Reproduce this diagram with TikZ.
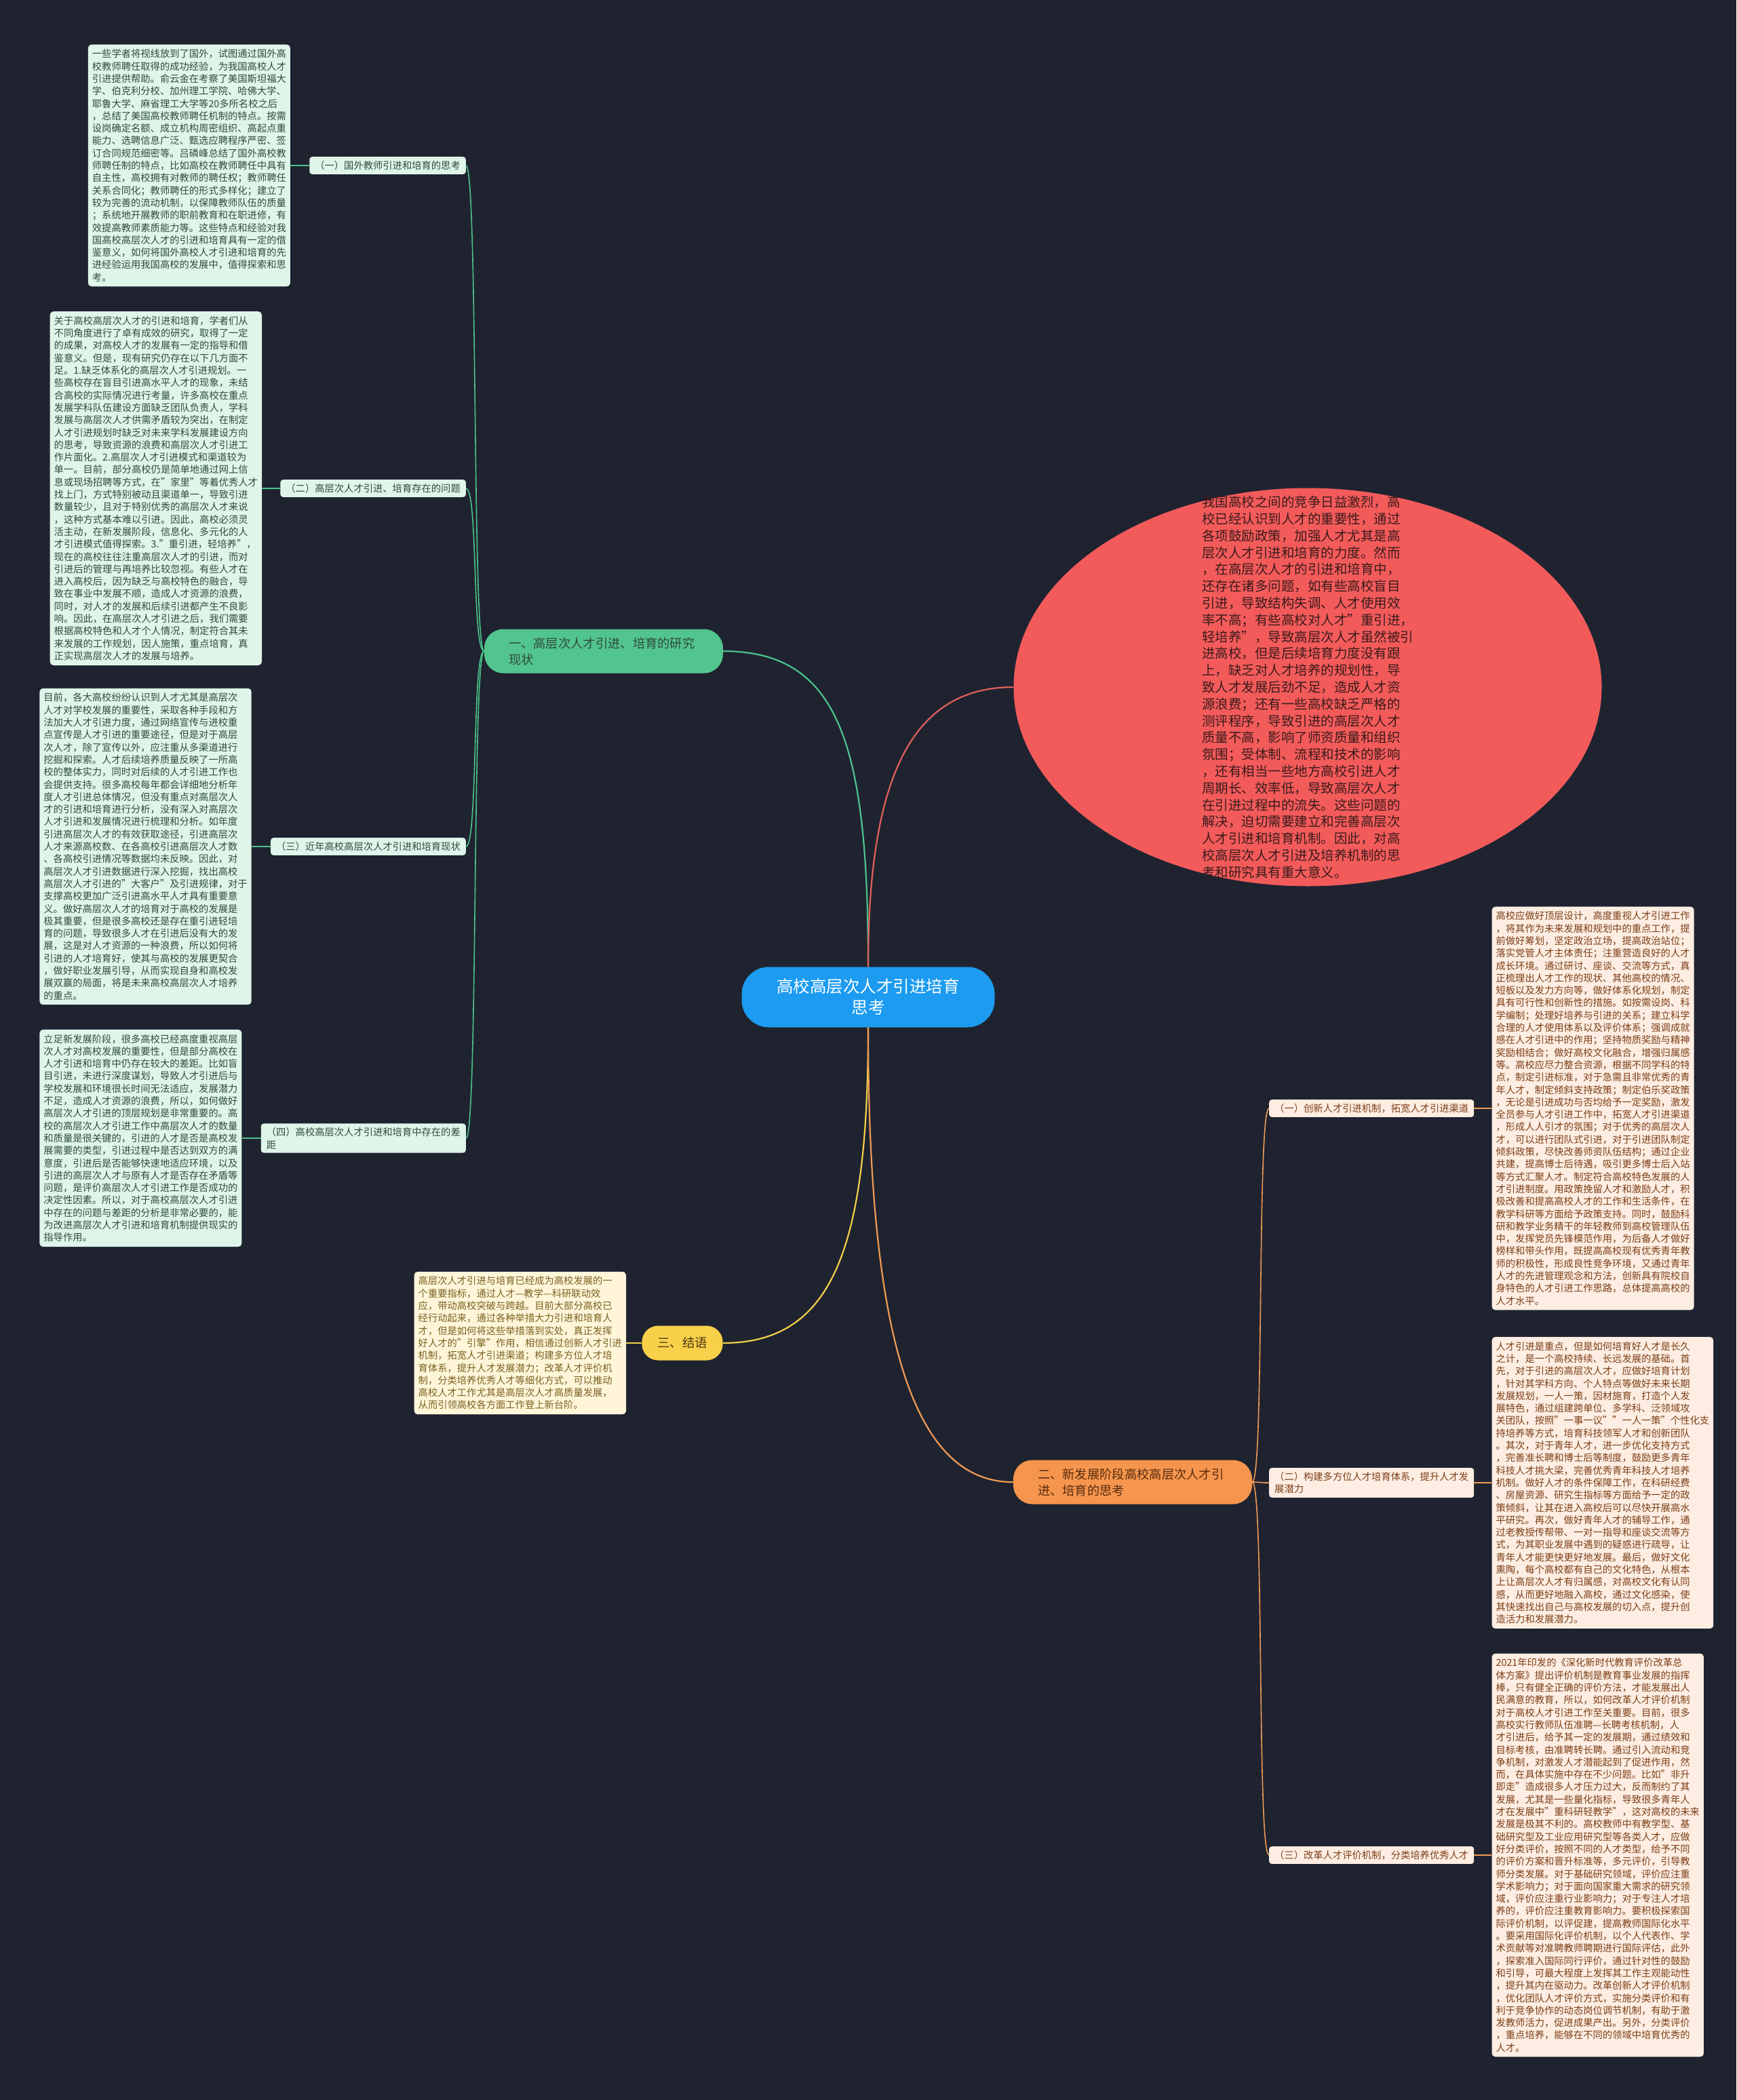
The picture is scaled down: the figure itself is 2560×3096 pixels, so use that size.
\documentclass[tikz,border=0pt]{standalone}
\usepackage{fontspec}
\setmainfont{Noto Sans CJK SC}
\definecolor{bgdark}{HTML}{1F2330}
\definecolor{rootblue}{HTML}{1C9BF0}
\definecolor{greenline}{HTML}{4CC38A}
\definecolor{greennode}{HTML}{52C48D}
\definecolor{mintfill}{HTML}{DFF5EA}
\definecolor{minttext}{HTML}{2F4A3E}
\definecolor{redfill}{HTML}{F35B5B}
\definecolor{redline}{HTML}{E0605C}
\definecolor{redtext}{HTML}{3A1A1A}
\definecolor{yellownode}{HTML}{F9D04A}
\definecolor{yellowline}{HTML}{F2CF48}
\definecolor{yellowfill}{HTML}{FFF6DA}
\definecolor{yellowtext}{HTML}{7A6020}
\definecolor{orangenode}{HTML}{F6954D}
\definecolor{orangeline}{HTML}{EF9A55}
\definecolor{peachfill}{HTML}{FDEDE2}
\definecolor{orangetext}{HTML}{7C3F17}
\usetikzlibrary{positioning,shapes.geometric}

\begin{document}
\begin{tikzpicture}[x=1pt, y=-1pt,
  every node/.style={font=\fontsize{14.3}{18.3}\selectfont, inner sep=0pt},
  root/.style={rectangle, rounded corners=40pt, fill=rootblue, text=white,
               align=center, font=\fontsize{24.5}{31}\selectfont,
               minimum width=373pt, minimum height=89pt},
  topic/.style={rectangle, rounded corners=28pt, minimum height=65pt,
                align=left, font=\fontsize{18.3}{24}\selectfont, inner xsep=36pt},
  tag/.style={rectangle, rounded corners=4pt, inner xsep=8pt, inner ysep=6pt, align=left},
  note/.style={rectangle, rounded corners=5pt, inner xsep=6pt, inner ysep=7pt, align=left},
  link/.style={line width=2.2pt},
  twig/.style={line width=1.6pt}
]
  \useasboundingbox (0,0) rectangle (2560,3096);
  \fill[bgdark] (0,0) rectangle (2560,3096);

  % centre and main topics
  \node[root] (root) at (1280,1470) {高校高层次人才引进培育\\思考};
  \node[topic, fill=greennode, text=minttext, text width=280pt] (sec1) at (890,960)
    {一、高层次人才引进、培育的研究\\现状};
  \node[topic, fill=orangenode, text=orangetext!70!black, text width=280pt] (sec2) at (1670,2185)
    {二、新发展阶段高校高层次人才引\\进、培育的思考};
  \node[topic, fill=yellownode, text=yellowtext!60!black, inner xsep=23pt,
        minimum height=51pt, rounded corners=24pt] (sec3) at (1006,1980) {三、结语};
  \node[ellipse, fill=redfill, minimum width=867pt, minimum height=587pt] (intro) at (1928,1013) {};
  \node[align=left, text=redtext, font=\fontsize{19.5}{24.8}\selectfont] (introtext) at (intro.center)
    {我国高校之间的竞争日益激烈，高\\校已经认识到人才的重要性，通过\\各项鼓励政策，加强人才尤其是高\\层次人才引进和培育的力度。然而\\，在高层次人才的引进和培育中，\\还存在诸多问题，如有些高校盲目\\引进，导致结构失调、人才使用效\\率不高；有些高校对人才"重引进，\\轻培养"，导致高层次人才虽然被引\\进高校，但是后续培育力度没有跟\\上，缺乏对人才培养的规划性，导\\致人才发展后劲不足，造成人才资\\源浪费；还有一些高校缺乏严格的\\测评程序，导致引进的高层次人才\\质量不高，影响了师资质量和组织\\氛围；受体制、流程和技术的影响\\，还有相当一些地方高校引进人才\\周期长、效率低，导致高层次人才\\在引进过程中的流失。这些问题的\\解决，迫切需要建立和完善高层次\\人才引进和培育机制。因此，对高\\校高层次人才引进及培养机制的思\\考和研究具有重大意义。};

  % left side labels
  \node[tag, fill=mintfill, text=minttext, anchor=east] (l1) at (687,244) {（一）国外教师引进和培育的思考};
  \node[tag, fill=mintfill, text=minttext, anchor=east] (l2) at (687,720) {（二）高层次人才引进、培育存在的问题};
  \node[tag, fill=mintfill, text=minttext, anchor=east] (l3) at (687,1248) {（三）近年高校高层次人才引进和培育现状};
  \node[tag, fill=mintfill, text=minttext, anchor=east] (l4) at (687,1678) {（四）高校高层次人才引进和培育中存在的差\\距};

  \node[note, fill=mintfill, text=minttext, left=28pt of l1] (n1)
    {一些学者将视线放到了国外，试图通过国外高\\校教师聘任取得的成功经验，为我国高校人才\\引进提供帮助。俞云金在考察了美国斯坦福大\\学、伯克利分校、加州理工学院、哈佛大学、\\耶鲁大学、麻省理工大学等20多所名校之后\\，总结了美国高校教师聘任机制的特点。按需\\设岗确定名额、成立机构周密组织、高起点重\\能力、选聘信息广泛、甄选应聘程序严密、签\\订合同规范细密等。吕磷峰总结了国外高校教\\师聘任制的特点，比如高校在教师聘任中具有\\自主性，高校拥有对教师的聘任权；教师聘任\\关系合同化；教师聘任的形式多样化；建立了\\较为完善的流动机制，以保障教师队伍的质量\\；系统地开展教师的职前教育和在职进修，有\\效提高教师素质能力等。这些特点和经验对我\\国高校高层次人才的引进和培育具有一定的借\\鉴意义，如何将国外高校人才引进和培育的先\\进经验运用我国高校的发展中，值得探索和思\\考。};
  \node[note, fill=mintfill, text=minttext, left=27pt of l2] (n2)
    {关于高校高层次人才的引进和培育，学者们从\\不同角度进行了卓有成效的研究，取得了一定\\的成果，对高校人才的发展有一定的指导和借\\鉴意义。但是，现有研究仍存在以下几方面不\\足。1.缺乏体系化的高层次人才引进规划。一\\些高校存在盲目引进高水平人才的现象，未结\\合高校的实际情况进行考量，许多高校在重点\\发展学科队伍建设方面缺乏团队负责人，学科\\发展与高层次人才供需矛盾较为突出，在制定\\人才引进规划时缺乏对未来学科发展建设方向\\的思考，导致资源的浪费和高层次人才引进工\\作片面化。2.高层次人才引进模式和渠道较为\\单一。目前，部分高校仍是简单地通过网上信\\息或现场招聘等方式，在"家里"等着优秀人才\\找上门，方式特别被动且渠道单一，导致引进\\数量较少，且对于特别优秀的高层次人才来说\\，这种方式基本难以引进。因此，高校必须灵\\活主动，在新发展阶段，信息化、多元化的人\\才引进模式值得探索。3."重引进，轻培养"，\\现在的高校往往注重高层次人才的引进，而对\\引进后的管理与再培养比较忽视。有些人才在\\进入高校后，因为缺乏与高校特色的融合，导\\致在事业中发展不顺，造成人才资源的浪费，\\同时，对人才的发展和后续引进都产生不良影\\响。因此，在高层次人才引进之后，我们需要\\根据高校特色和人才个人情况，制定符合其未\\来发展的工作规划，因人施策，重点培育，真\\正实现高层次人才的发展与培养。};
  \node[note, fill=mintfill, text=minttext, left=28pt of l3] (n3)
    {目前，各大高校纷纷认识到人才尤其是高层次\\人才对学校发展的重要性，采取各种手段和方\\法加大人才引进力度，通过网络宣传与进校重\\点宣传是人才引进的重要途径，但是对于高层\\次人才，除了宣传以外，应注重从多渠道进行\\挖掘和探索。人才后续培养质量反映了一所高\\校的整体实力，同时对后续的人才引进工作也\\会提供支持。很多高校每年都会详细地分析年\\度人才引进总体情况，但没有重点对高层次人\\才的引进和培育进行分析，没有深入对高层次\\人才引进和发展情况进行梳理和分析。如年度\\引进高层次人才的有效获取途径，引进高层次\\人才来源高校数、在各高校引进高层次人才数\\、各高校引进情况等数据均未反映。因此，对\\高层次人才引进数据进行深入挖掘，找出高校\\高层次人才引进的"大客户"及引进规律，对于\\支撑高校更加广泛引进高水平人才具有重要意\\义。做好高层次人才的培育对于高校的发展是\\极其重要，但是很多高校还是存在重引进轻培\\育的问题，导致很多人才在引进后没有大的发\\展，这是对人才资源的一种浪费，所以如何将\\引进的人才培育好，使其与高校的发展更契合\\，做好职业发展引导，从而实现自身和高校发\\展双赢的局面，将是未来高校高层次人才培养\\的重点。};
  \node[note, fill=mintfill, text=minttext, left=28pt of l4] (n4)
    {立足新发展阶段，很多高校已经高度重视高层\\次人才对高校发展的重要性，但是部分高校在\\人才引进和培育中仍存在较大的差距。比如盲\\目引进，未进行深度谋划，导致人才引进后与\\学校发展和环境很长时间无法适应，发展潜力\\不足，造成人才资源的浪费，所以，如何做好\\高层次人才引进的顶层规划是非常重要的。高\\校的高层次人才引进工作中高层次人才的数量\\和质量是很关键的，引进的人才是否是高校发\\展需要的类型，引进过程中是否达到双方的满\\意度，引进后是否能够快速地适应环境，以及\\引进的高层次人才与原有人才是否存在矛盾等\\问题，是评价高层次人才引进工作是否成功的\\决定性因素。所以，对于高校高层次人才引进\\中存在的问题与差距的分析是非常必要的，能\\为改进高层次人才引进和培育机制提供现实的\\指导作用。};

  % conclusion
  \node[note, fill=yellowfill, text=yellowtext, left=23pt of sec3] (n5)
    {高层次人才引进与培育已经成为高校发展的一\\个重要指标，通过人才—教学—科研联动效\\应，带动高校突破与跨越。目前大部分高校已\\经行动起来，通过各种举措大力引进和培育人\\才，但是如何将这些举措落到实处，真正发挥\\好人才的"引擎"作用，相信通过创新人才引进\\机制，拓宽人才引进渠道；构建多方位人才培\\育体系，提升人才发展潜力；改革人才评价机\\制，分类培养优秀人才等细化方式，可以推动\\高校人才工作尤其是高层次人才高质量发展，\\从而引领高校各方面工作登上新台阶。};

  % right side labels
  \node[tag, fill=peachfill, text=orangetext, anchor=west] (r1) at (1871,1634) {（一）创新人才引进机制，拓宽人才引进渠道};
  \node[tag, fill=peachfill, text=orangetext, anchor=west] (r2) at (1871,2186) {（二）构建多方位人才培育体系，提升人才发\\展潜力};
  \node[tag, fill=peachfill, text=orangetext, anchor=west] (r3) at (1871,2735) {（三）改革人才评价机制，分类培养优秀人才};

  \node[note, fill=peachfill, text=orangetext, right=26pt of r1] (m1)
    {高校应做好顶层设计，高度重视人才引进工作\\，将其作为未来发展和规划中的重点工作，提\\前做好筹划，坚定政治立场，提高政治站位；\\落实党管人才主体责任；注重营造良好的人才\\成长环境。通过研讨、座谈、交流等方式，真\\正梳理出人才工作的现状、其他高校的情况、\\短板以及发力方向等，做好体系化规划，制定\\具有可行性和创新性的措施。如按需设岗、科\\学编制；处理好培养与引进的关系；建立科学\\合理的人才使用体系以及评价体系；强调成就\\感在人才引进中的作用；坚持物质奖励与精神\\奖励相结合；做好高校文化融合，增强归属感\\等。高校应尽力整合资源，根据不同学科的特\\点，制定引进标准，对于急需且非常优秀的青\\年人才，制定倾斜支持政策；制定伯乐奖政策\\，无论是引进成功与否均给予一定奖励，激发\\全员参与人才引进工作中，拓宽人才引进渠道\\，形成人人引才的氛围；对于优秀的高层次人\\才，可以进行团队式引进，对于引进团队制定\\倾斜政策，尽快改善师资队伍结构；通过企业\\共建，提高博士后待遇，吸引更多博士后入站\\等方式汇聚人才。制定符合高校特色发展的人\\才引进制度。用政策挽留人才和激励人才，积\\极改善和提高高校人才的工作和生活条件，在\\教学科研等方面给予政策支持。同时，鼓励科\\研和教学业务精干的年轻教师到高校管理队伍\\中，发挥党员先锋模范作用，为后备人才做好\\榜样和带头作用，既提高高校现有优秀青年教\\师的积极性，形成良性竞争环境，又通过青年\\人才的先进管理观念和方法，创新具有院校自\\身特色的人才引进工作思路，总体提高高校的\\人才水平。};
  \node[note, fill=peachfill, text=orangetext, right=26pt of r2] (m2)
    {人才引进是重点，但是如何培育好人才是长久\\之计，是一个高校持续、长远发展的基础。首\\先，对于引进的高层次人才，应做好培育计划\\，针对其学科方向、个人特点等做好未来长期\\发展规划，一人一策，因材施育，打造个人发\\展特色，通过组建跨单位、多学科、泛领域攻\\关团队，按照"一事一议""一人一策"个性化支\\持培养等方式，培育科技领军人才和创新团队\\。其次，对于青年人才，进一步优化支持方式\\，完善准长聘和博士后等制度，鼓励更多青年\\科技人才挑大梁，完善优秀青年科技人才培养\\机制。做好人才的条件保障工作，在科研经费\\、房屋资源、研究生指标等方面给予一定的政\\策倾斜，让其在进入高校后可以尽快开展高水\\平研究。再次，做好青年人才的辅导工作，通\\过老教授传帮带、一对一指导和座谈交流等方\\式，为其职业发展中遇到的疑惑进行疏导，让\\青年人才能更快更好地发展。最后，做好文化\\熏陶，每个高校都有自己的文化特色，从根本\\上让高层次人才有归属感，对高校文化有认同\\感，从而更好地融入高校，通过文化感染，使\\其快速找出自己与高校发展的切入点，提升创\\造活力和发展潜力。};
  \node[note, fill=peachfill, text=orangetext, right=26pt of r3] (m3)
    {2021年印发的《深化新时代教育评价改革总\\体方案》提出评价机制是教育事业发展的指挥\\棒，只有健全正确的评价方法，才能发展出人\\民满意的教育，所以，如何改革人才评价机制\\对于高校人才引进工作至关重要。目前，很多\\高校实行教师队伍准聘—长聘考核机制，人\\才引进后，给予其一定的发展期，通过绩效和\\目标考核，由准聘转长聘。通过引入流动和竞\\争机制，对激发人才潜能起到了促进作用，然\\而，在具体实施中存在不少问题。比如"非升\\即走"造成很多人才压力过大，反而制约了其\\发展，尤其是一些量化指标，导致很多青年人\\才在发展中"重科研轻教学"，这对高校的未来\\发展是极其不利的。高校教师中有教学型、基\\础研究型及工业应用研究型等各类人才，应做\\好分类评价，按照不同的人才类型，给予不同\\的评价方案和晋升标准等，多元评价，引导教\\师分类发展。对于基础研究领域，评价应注重\\学术影响力；对于面向国家重大需求的研究领\\域，评价应注重行业影响力；对于专注人才培\\养的，评价应注重教育影响力。要积极探索国\\际评价机制，以评促建，提高教师国际化水平\\。要采用国际化评价机制，以个人代表作、学\\术贡献等对准聘教师聘期进行国际评估，此外\\，探索准入国际同行评价，通过针对性的鼓励\\和引导，可最大程度上发挥其工作主观能动性\\，提升其内在驱动力。改革创新人才评价机制\\，优化团队人才评价方式，实施分类评价和有\\利于竞争协作的动态岗位调节机制，有助于激\\发教师活力，促进成果产出。另外，分类评价\\，重点培养，能够在不同的领域中培育优秀的\\人才。};

  % connectors from the centre
  \draw[link, greenline] (root.north) .. controls +(0,-330) and +(170,0) .. (sec1.east);
  \draw[link, redline] (root.north) .. controls +(0,-280) and +(-150,0) .. (intro.west);
  \draw[link, yellowline] (root.south) .. controls +(0,330) and +(160,0) .. (sec3.east);
  \draw[link, orangeline] (root.south) .. controls +(0,480) and +(-140,0) .. (sec2.west);

  % connectors to the labels
  \foreach \lab in {l1,l2,l3,l4}
    \draw[twig, greenline] (sec1.west) .. controls +(-18,0) and +(18,0) .. (\lab.east);
  \foreach \lab in {r1,r2,r3}
    \draw[twig, orangeline] (sec2.east) .. controls +(18,0) and +(-18,0) .. (\lab.west);

  % labels to their notes
  \draw[twig, greenline] (l1.west) -- (n1.east);
  \draw[twig, greenline] (l2.west) -- (n2.east);
  \draw[twig, greenline] (l3.west) -- (n3.east);
  \draw[twig, greenline] (l4.west) -- (n4.east);
  \draw[twig, yellowline] (sec3.west) -- (n5.east);
  \draw[twig, orangeline] (r1.east) -- (m1.west);
  \draw[twig, orangeline] (r2.east) -- (m2.west);
  \draw[twig, orangeline] (r3.east) -- (m3.west);
\end{tikzpicture}
\end{document}
